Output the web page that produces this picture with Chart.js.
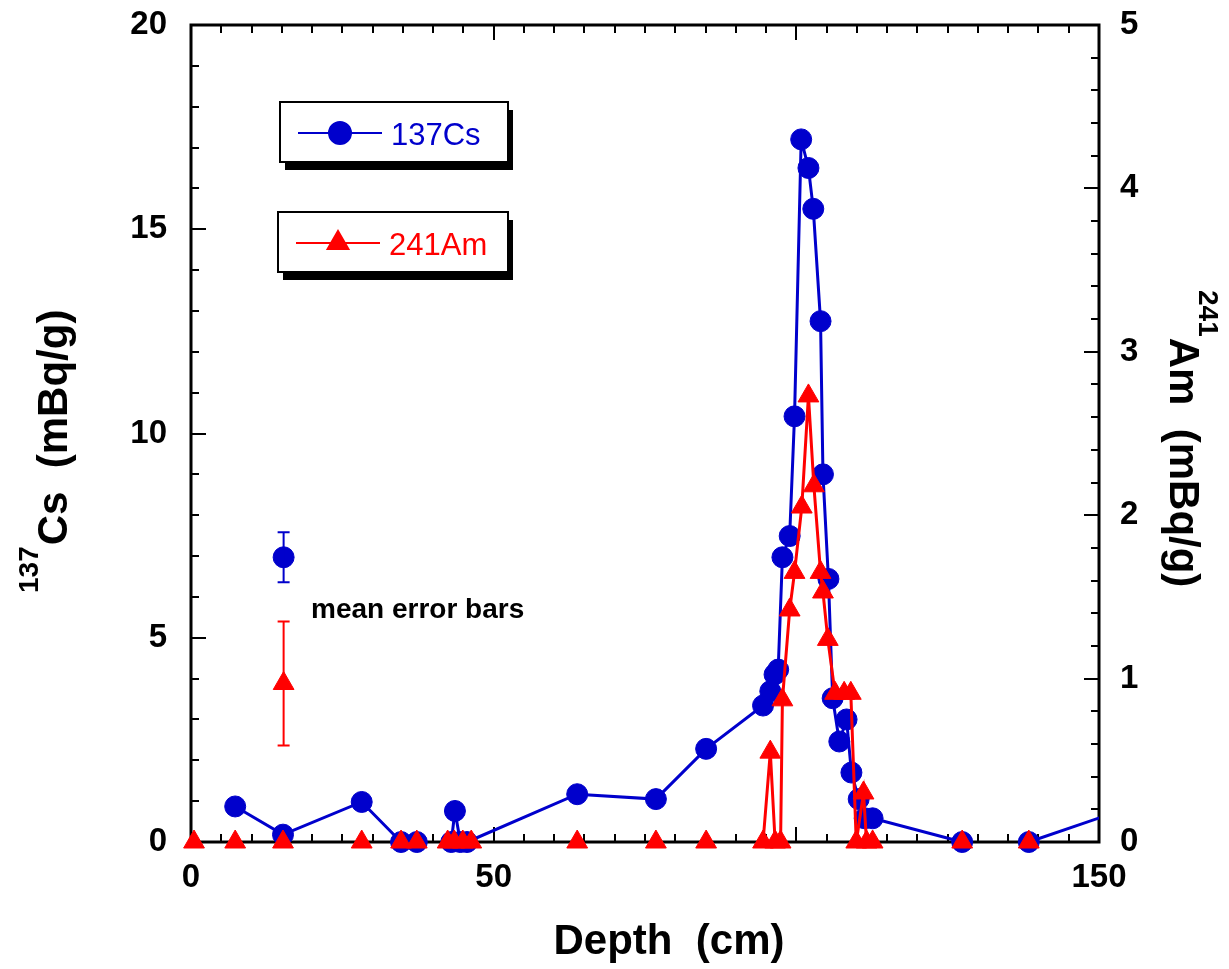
<!DOCTYPE html>
<html>
<head>
<meta charset="utf-8">
<title>137Cs and 241Am depth profile</title>
<script src="https://cdn.jsdelivr.net/npm/chart.js@4.4.1/dist/chart.umd.min.js"></script>
<style>
  html, body { margin: 0; padding: 0; background: #fff; }
  #chart { display: block; }
</style>
</head>
<body>
<canvas id="chart" width="1229" height="969"></canvas>
<script>
// 137Cs activity (mBq/g) by depth (cm); last point runs past the axis edge
const csDepth = [7.3, 15.2, 28.2, 34.7, 37.3, 43.0, 43.6, 44.5, 45.6, 63.8, 76.8, 85.1,
  94.5, 95.7, 96.4, 97.0, 97.7, 98.9, 99.7, 100.8, 102.0, 102.8, 104.0, 104.4, 105.3,
  106.0, 107.1, 108.3, 109.1, 110.3, 111.3, 112.6, 127.4, 138.4, 155];
const csValue = [0.87, 0.18, 0.98, 0, 0, 0, 0.76, 0, 0, 1.17, 1.05, 2.28,
  3.34, 3.69, 4.10, 4.22, 6.97, 7.49, 10.42, 17.2, 16.5, 15.5, 12.75, 9.0, 6.44,
  3.52, 2.46, 3.0, 1.70, 1.05, 0.58, 0.58, 0, 0, 0.84];

// 241Am activity (mBq/g) by depth (cm)
const amDepth = [0.5, 7.3, 15.2, 28.2, 34.7, 37.3, 42.4, 43.5, 44.9, 46.3, 63.8, 76.8, 85.1,
  94.5, 95.7, 96.5, 97.4, 97.7, 98.9, 99.7, 100.9, 102.0, 102.9, 104.0, 104.4, 105.2,
  106.4, 107.9, 109.0, 109.9, 111.1, 111.6, 112.6, 127.4, 138.4];
const amValue = [0, 0, 0, 0, 0, 0, 0, 0, 0, 0, 0, 0, 0,
  0, 0.55, 0, 0, 0.87, 1.42, 1.65, 2.05, 2.73, 2.18, 1.65, 1.53, 1.24,
  0.91, 0.91, 0.91, 0, 0.30, 0, 0, 0, 0];

// mean error bars shown as a key
const errDepth = [15.3];
const csErrMean = [6.97];
const csErrHalf = [0.61];
const amErrMean = [0.97];
const amErrHalf = [0.38];

const xTicks = [0, 50, 150];
const legendLabels = ['137Cs', '241Am'];

const BLUE = '#0000cc';
const RED = '#ff0000';
const FONT = 'Liberation Sans, Arial, Helvetica, sans-serif';

function toPoints(xs, ys) {
  return xs.map((x, i) => ({ x, y: ys[i] }));
}

// hide the bits of line that run along the zero baseline
function baselineSegment(color) {
  return ctx => (ctx.p0.parsed.y === 0 && ctx.p1.parsed.y === 0) ? 'rgba(0,0,0,0)' : color;
}

// keep the plot frame at a fixed place whatever the labels need
function fixWidth(w) {
  return scale => {
    scale.width = w;
    scale.paddingTop = 0;
    scale.paddingBottom = 0;
  };
}

// inward tick marks and frame
const frame = {
  id: 'frame',
  beforeDatasetsDraw(chart) {
    const { ctx, chartArea: a, scales } = chart;
    const x = scales.x, y = scales.y, y2 = scales.y2;
    ctx.save();
    ctx.strokeStyle = '#000';
    ctx.lineWidth = 2;
    ctx.beginPath();
    for (let d = 0; d <= 150; d += 5) {
      const px = Math.round(x.getPixelForValue(d));
      const len = d % 50 === 0 ? 15 : 8;
      ctx.moveTo(px, a.bottom); ctx.lineTo(px, a.bottom - len);
      ctx.moveTo(px, a.top); ctx.lineTo(px, a.top + len);
    }
    for (let v = 0; v <= 20; v += 1) {
      const py = Math.round(y.getPixelForValue(v));
      ctx.moveTo(a.left, py); ctx.lineTo(a.left + (v % 5 === 0 ? 15 : 8), py);
    }
    for (let k = 0; k <= 25; k++) {
      const py = Math.round(y2.getPixelForValue(k * 0.2));
      ctx.moveTo(a.right, py); ctx.lineTo(a.right - (k % 5 === 0 ? 15 : 8), py);
    }
    ctx.stroke();
    ctx.lineWidth = 3;
    ctx.strokeRect(a.left, a.top, a.right - a.left, a.bottom - a.top);
    ctx.restore();
  }
};

// vertical error bars for datasets carrying errHalf
const errorBars = {
  id: 'errorBars',
  afterDatasetsDraw(chart) {
    const { ctx } = chart;
    chart.data.datasets.forEach((ds, i) => {
      if (!ds.errHalf) return;
      const meta = chart.getDatasetMeta(i);
      const ys = chart.scales[ds.yAxisID];
      ds.data.forEach((p, j) => {
        const px = meta.data[j].x;
        const top = ys.getPixelForValue(p.y + ds.errHalf[j]);
        const bot = ys.getPixelForValue(p.y - ds.errHalf[j]);
        ctx.save();
        ctx.strokeStyle = ds.borderColor;
        ctx.lineWidth = 2;
        ctx.beginPath();
        ctx.moveTo(px, top); ctx.lineTo(px, bot);
        ctx.moveTo(px - 6, top); ctx.lineTo(px + 6, top);
        ctx.moveTo(px - 6, bot); ctx.lineTo(px + 6, bot);
        ctx.stroke();
        ctx.restore();
      });
    });
  }
};

// boxed legend with drop shadow, axis titles and the error bar note
const annotations = {
  id: 'annotations',
  afterDraw(chart) {
    const { ctx } = chart;
    const boxes = [
      { x: 280, y: 102, w: 228, h: 60, color: BLUE, style: 'circle', r: 11, label: legendLabels[0] },
      { x: 278, y: 212, w: 230, h: 60, color: RED, style: 'triangle', r: 12, label: legendLabels[1] }
    ];
    ctx.save();
    boxes.forEach(b => {
      ctx.fillStyle = '#000';
      ctx.fillRect(b.x + 5, b.y + 8, b.w, b.h);
      ctx.fillStyle = '#fff';
      ctx.fillRect(b.x, b.y, b.w, b.h);
      ctx.strokeStyle = '#000';
      ctx.lineWidth = 2;
      ctx.strokeRect(b.x, b.y, b.w, b.h);
      const cy = b.y + 31;
      ctx.strokeStyle = b.color;
      ctx.lineWidth = 2;
      ctx.beginPath();
      ctx.moveTo(b.x + 18, cy); ctx.lineTo(b.x + 102, cy);
      ctx.stroke();
      ctx.fillStyle = b.color;
      Chart.helpers.drawPoint(ctx, { pointStyle: b.style, radius: b.r, borderWidth: 1, rotation: 0 }, b.x + 60, cy);
      ctx.fill();
      ctx.font = '31px ' + FONT;
      ctx.textBaseline = 'alphabetic';
      ctx.textAlign = 'left';
      ctx.fillText(b.label, b.x + 111, b.y + 43);
    });

    ctx.fillStyle = '#000';
    ctx.font = 'bold 28px ' + FONT;
    ctx.fillText('mean error bars', 311, 618);

    ctx.textAlign = 'center';
    ctx.font = 'bold 42px ' + FONT;
    ctx.fillText('Depth  (cm)', 669, 954);

    // left axis title, reading upward
    ctx.save();
    ctx.translate(67, 593);
    ctx.rotate(-Math.PI / 2);
    ctx.textAlign = 'left';
    ctx.font = 'bold 28px ' + FONT;
    ctx.fillText('137', 0, -29);
    let w = ctx.measureText('137').width;
    ctx.font = 'bold 42px ' + FONT;
    ctx.fillText('Cs  (mBq/g)', w + 1, 0);
    ctx.restore();

    // right axis title, reading downward
    ctx.save();
    ctx.translate(1170, 290);
    ctx.rotate(Math.PI / 2);
    ctx.textAlign = 'left';
    ctx.font = 'bold 28px ' + FONT;
    ctx.fillText('241', 0, -29);
    w = ctx.measureText('241').width;
    ctx.font = 'bold 42px ' + FONT;
    ctx.fillText('Am  (mBq/g)', w + 1, 0);
    ctx.restore();

    ctx.restore();
  }
};

const tickFont = { family: FONT, weight: 'bold', size: 33 };

new Chart(document.getElementById('chart'), {
  type: 'scatter',
  data: {
    datasets: [
      {
        label: legendLabels[0],
        data: toPoints(csDepth, csValue),
        yAxisID: 'y',
        showLine: true,
        borderColor: BLUE,
        backgroundColor: BLUE,
        borderWidth: 3,
        pointStyle: 'circle',
        pointRadius: ctx => (ctx.raw && ctx.raw.x > 150) ? 0 : 10.5,
        pointBorderWidth: 1,
        segment: { borderColor: baselineSegment(BLUE) },
        clip: { left: 20, top: 20, right: 0, bottom: 20 },
        order: 2
      },
      {
        label: legendLabels[1],
        data: toPoints(amDepth, amValue),
        yAxisID: 'y2',
        showLine: true,
        borderColor: RED,
        backgroundColor: RED,
        borderWidth: 3,
        pointStyle: 'triangle',
        pointRadius: 12,
        pointBorderWidth: 1,
        segment: { borderColor: baselineSegment(RED) },
        clip: 20,
        order: 1
      },
      {
        label: 'Cs error',
        data: toPoints(errDepth, csErrMean),
        errHalf: csErrHalf,
        yAxisID: 'y',
        borderColor: BLUE,
        backgroundColor: BLUE,
        pointStyle: 'circle',
        pointRadius: 10.5,
        pointBorderWidth: 1,
        order: 3
      },
      {
        label: 'Am error',
        data: toPoints(errDepth, amErrMean),
        errHalf: amErrHalf,
        yAxisID: 'y2',
        borderColor: RED,
        backgroundColor: RED,
        pointStyle: 'triangle',
        pointRadius: 12,
        pointBorderWidth: 1,
        order: 3
      }
    ]
  },
  options: {
    responsive: false,
    animation: false,
    devicePixelRatio: 1,
    layout: { padding: { top: 25, left: 0, right: 0, bottom: 0 } },
    plugins: {
      legend: { display: false },
      tooltip: { enabled: false }
    },
    scales: {
      x: {
        type: 'linear',
        min: 0,
        max: 150,
        afterBuildTicks: scale => { scale.ticks = xTicks.map(v => ({ value: v })); },
        afterFit: scale => { scale.height = 127; },
        grid: { display: false, drawTicks: false, tickLength: 0 },
        border: { display: false },
        ticks: { font: tickFont, color: '#000', padding: 16, maxRotation: 0 }
      },
      y: {
        type: 'linear',
        position: 'left',
        min: 0,
        max: 20,
        afterFit: fixWidth(191),
        grid: { display: false, drawTicks: false, tickLength: 0 },
        border: { display: false },
        ticks: { stepSize: 5, font: tickFont, color: '#000', padding: 24 }
      },
      y2: {
        type: 'linear',
        position: 'right',
        min: 0,
        max: 5,
        afterFit: fixWidth(130),
        grid: { display: false, drawTicks: false, tickLength: 0 },
        border: { display: false },
        ticks: { stepSize: 1, font: tickFont, color: '#000', padding: 21 }
      }
    }
  },
  plugins: [frame, errorBars, annotations]
});
</script>
</body>
</html>
